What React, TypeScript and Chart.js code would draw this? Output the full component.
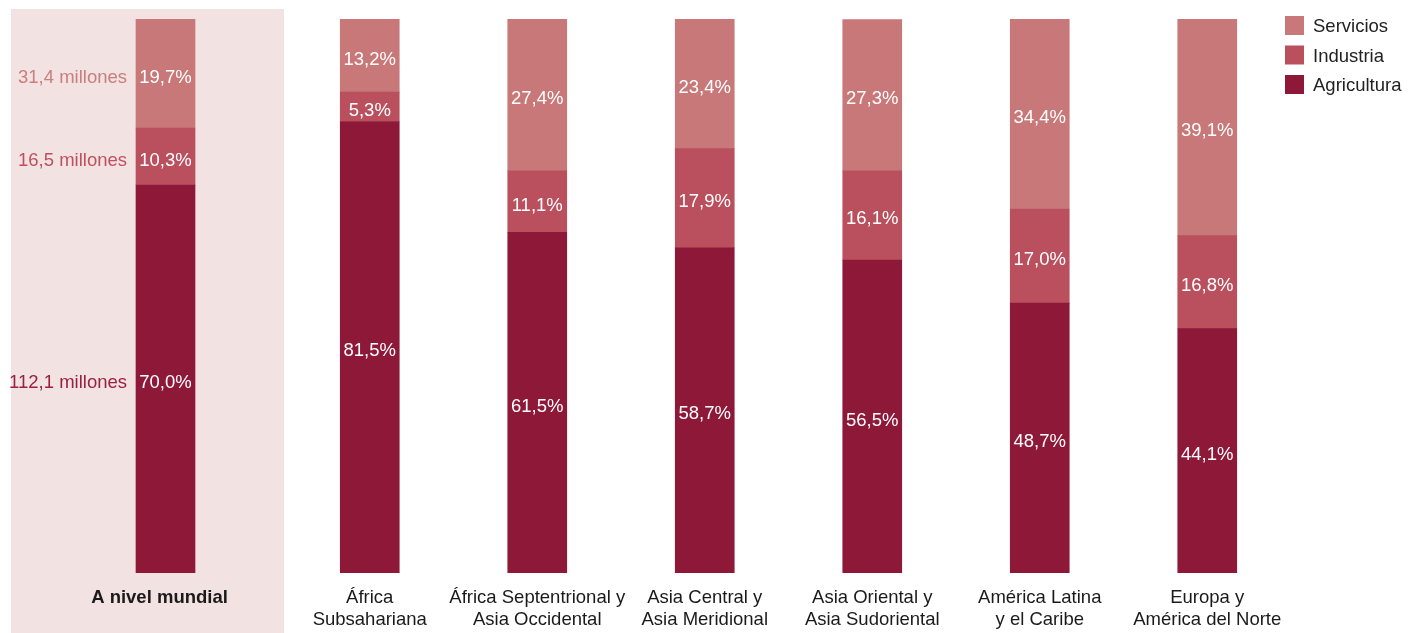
import React, { useEffect, useRef } from 'react';
import { Chart, registerables } from 'chart.js';
Chart.register(...registerables);

const FONT = '"Liberation Sans", Arial, Helvetica, sans-serif';
const FS = 18.5;

const seriesNames = ['Agricultura', 'Industria', 'Servicios'];
const seriesColors = ['#8E1838', '#BA505E', '#C87878'];
const millonesColors = ['#9A2040', '#C05060', '#CB7E7E'];

const worldLabels = ['A nivel mundial'];
const worldAgricultura = [70.0];
const worldIndustria = [10.3];
const worldServicios = [19.7];
const worldMillones = [112.1, 16.5, 31.4];

const regionLabels = [
  ['África', 'Subsahariana'],
  ['África Septentrional y', 'Asia Occidental'],
  ['Asia Central y', 'Asia Meridional'],
  ['Asia Oriental y', 'Asia Sudoriental'],
  ['América Latina', 'y el Caribe'],
  ['Europa y', 'América del Norte'],
];
const regionAgricultura = [81.5, 61.5, 58.7, 56.5, 48.7, 44.1];
const regionIndustria = [5.3, 11.1, 17.9, 16.1, 17.0, 16.8];
const regionServicios = [13.2, 27.4, 23.4, 27.3, 34.4, 39.1];

const fmt = (v: number) => v.toFixed(1).replace('.', ',');

const pctLabels = {
  id: 'pctLabels',
  afterDatasetsDraw(chart: any) {
    const ctx = chart.ctx;
    ctx.save();
    ctx.font = `${FS}px ${FONT}`;
    ctx.fillStyle = '#ffffff';
    ctx.textAlign = 'center';
    ctx.textBaseline = 'middle';
    chart.data.datasets.forEach((ds: any, i: number) => {
      const meta = chart.getDatasetMeta(i);
      meta.data.forEach((bar: any, j: number) => {
        const v = ds.data[j] as number;
        const y = (bar.y + bar.base) / 2 + 4;
        ctx.fillText(fmt(v) + '%', bar.x, y);
      });
    });
    ctx.restore();
  },
};

const millonesLabels = {
  id: 'millonesLabels',
  afterDatasetsDraw(chart: any) {
    const ctx = chart.ctx;
    ctx.save();
    ctx.font = `${FS}px ${FONT}`;
    ctx.textAlign = 'right';
    ctx.textBaseline = 'middle';
    chart.data.datasets.forEach((ds: any, i: number) => {
      const bar: any = chart.getDatasetMeta(i).data[0];
      const y = (bar.y + bar.base) / 2 + 4;
      ctx.fillStyle = millonesColors[i];
      ctx.fillText(fmt(worldMillones[i]) + ' millones', bar.x - bar.width / 2 - 9, y);
    });
    ctx.restore();
  },
};

const legendPlugin = {
  id: 'customLegend',
  afterDraw(chart: any) {
    const ctx = chart.ctx;
    ctx.save();
    ctx.font = `${FS}px ${FONT}`;
    ctx.textAlign = 'left';
    ctx.textBaseline = 'middle';
    const n = chart.data.datasets.length;
    for (let r = 0; r < n; r++) {
      const k = n - 1 - r;
      const ds = chart.data.datasets[k];
      const top = 16 + r * 29.5;
      ctx.fillStyle = ds.backgroundColor;
      ctx.fillRect(1001, top, 19, 19);
      ctx.fillStyle = '#222222';
      ctx.fillText(ds.label, 1029, top + 11);
    }
    ctx.restore();
  },
};

function buildConfig(
  labels: any[],
  series: number[][],
  padLeft: number,
  padRight: number,
  bold: boolean,
  labelOffset: number,
  plugins: any[]
): any {
  return {
    type: 'bar',
    data: {
      labels,
      datasets: series.map((d, i) => ({
        label: seriesNames[i],
        data: d,
        backgroundColor: seriesColors[i],
        borderWidth: 0,
        barThickness: 59,
      })),
    },
    options: {
      responsive: false,
      animation: false,
      devicePixelRatio: 1,
      layout: { padding: { top: 19, bottom: 0, left: padLeft, right: padRight } },
      plugins: { legend: { display: false }, tooltip: { enabled: false } },
      scales: {
        x: {
          stacked: true,
          grid: { display: false, drawTicks: false },
          border: { display: false },
          ticks: {
            padding: 14,
            labelOffset,
            color: '#1a1a1a',
            font: { family: FONT, size: FS, weight: bold ? 'bold' : 'normal', lineHeight: 22 / FS },
            maxRotation: 0,
            autoSkip: false,
          },
          afterFit: (scale: any) => {
            scale.height = 60;
          },
        },
        y: {
          stacked: true,
          display: false,
          min: 0,
          max: 100,
        },
      },
    },
    plugins,
  };
}

export default function App() {
  const refA = useRef<HTMLCanvasElement>(null);
  const refB = useRef<HTMLCanvasElement>(null);

  useEffect(() => {
    const a = new Chart(
      refA.current!,
      buildConfig(
        worldLabels,
        [worldAgricultura, worldIndustria, worldServicios],
        100,
        53,
        true,
        -6,
        [pctLabels, millonesLabels]
      )
    );
    const b = new Chart(
      refB.current!,
      buildConfig(
        regionLabels,
        [regionAgricultura, regionIndustria, regionServicios],
        2,
        130,
        false,
        0,
        [pctLabels, legendPlugin]
      )
    );
    return () => {
      a.destroy();
      b.destroy();
    };
  }, []);

  return (
    <div
      style={{
        position: 'fixed',
        left: 0,
        top: 0,
        width: 1421,
        height: 633,
        background: '#ffffff',
        overflow: 'hidden',
      }}
    >
      <div
        style={{
          position: 'absolute',
          left: 11,
          top: 9,
          width: 273,
          height: 624,
          background: '#F2E2E2',
        }}
      />
      <canvas
        ref={refA}
        width={284}
        height={633}
        style={{ position: 'absolute', left: 0, top: 0, width: 284, height: 633 }}
      />
      <canvas
        ref={refB}
        width={1137}
        height={633}
        style={{ position: 'absolute', left: 284, top: 0, width: 1137, height: 633 }}
      />
    </div>
  );
}
